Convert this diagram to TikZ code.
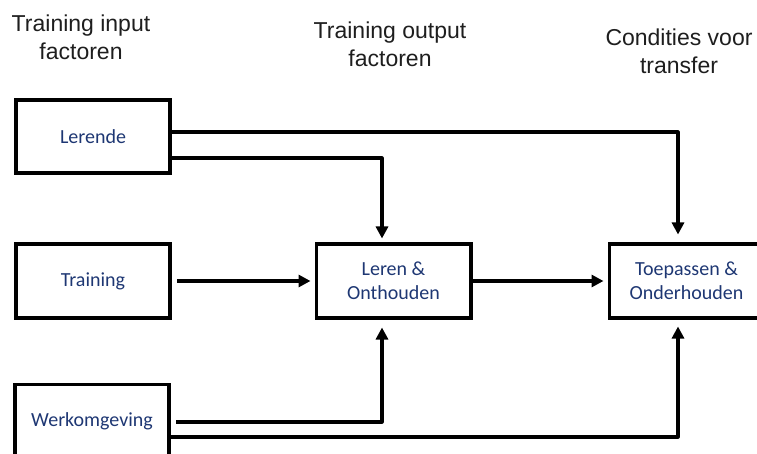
\documentclass[tikz,border=0pt]{standalone}
\usepackage{fontspec}
\newfontfamily\labfont{Carlito}
\newfontfamily\hdrfont{Liberation Sans}
\usetikzlibrary{arrows.meta}
\definecolor{labblue}{RGB}{30,55,115}
\definecolor{hdrgray}{RGB}{30,30,30}
\tikzset{
  factorbox/.style={draw=black, line width=3.6pt, minimum width=154.4pt, minimum height=73.4pt,
    inner sep=0pt, align=center, text=labblue, font=\labfont\fontsize{20}{24}\selectfont},
  header/.style={anchor=north, inner sep=0pt, align=center, text=hdrgray,
    font=\hdrfont\fontsize{23}{28}\selectfont},
  flow/.style={line width=3.1pt, line join=round, -{Triangle[length=12pt,width=12pt]}}
}
\begin{document}
\begin{tikzpicture}[x=1pt,y=-1pt]
\useasboundingbox (0,0) rectangle (757,454);
\clip (0,0) rectangle (757,454);
% headers
\node[header] (hin) at (81,14.5) {Training input\\factoren};
\node[header] (hout) at (390,21.5) {Training output\\factoren};
\node[header] (hcond) at (679,28.5) {Condities voor\\transfer};
% boxes
\node[factorbox] (lerende) at (93,136.5) {Lerende};
\node[factorbox] (training) at (93,281) {Training};
\node[factorbox] (werk) at (92,421) {Werkomgeving};
\node[factorbox] (leren) at (393.5,281) {Leren \&\\Onthouden};
\node[factorbox] (toep) at (686.5,281) {Toepassen \&\\Onderhouden};
% connectors
\draw[flow, shorten >=8pt] ([yshift=4.5pt]lerende.east) -| ([xshift=-8.5pt]toep.north);
\draw[flow, shorten >=4pt] ([yshift=-21.5pt]lerende.east) -| ([xshift=-11.5pt]leren.north);
\draw[flow, shorten <=5pt, shorten >=4pt] (training.east) -- (leren.west);
\draw[flow, shorten >=4pt] (leren.east) -- (toep.west);
\draw[flow, shorten <=5pt, shorten >=8pt] ([yshift=-1pt]werk.east) -| ([xshift=-11.5pt]leren.south);
\draw[flow, shorten >=7pt] ([yshift=-16pt]werk.east) -| ([xshift=-8.5pt]toep.south);
\end{tikzpicture}
\end{document}
